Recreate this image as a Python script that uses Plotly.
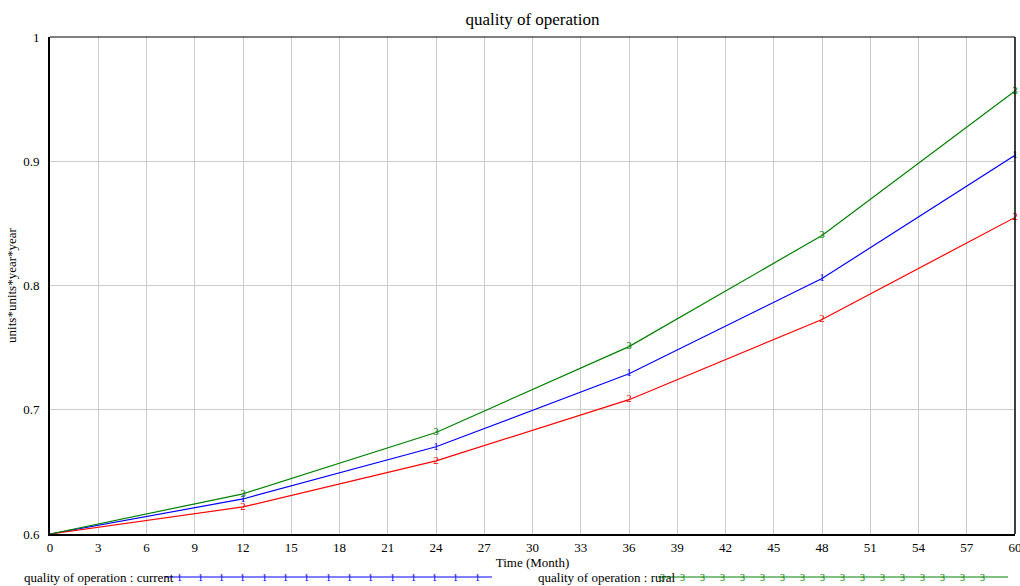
import plotly.graph_objects as go

# Simulation output, sampled every 12 months
months = [0, 12, 24, 36, 48, 60]
current = [0.600, 0.6282, 0.6702, 0.7290, 0.8056, 0.9048]
run2 = [0.600, 0.6218, 0.6589, 0.7081, 0.7726, 0.8548]
rural = [0.600, 0.6323, 0.6817, 0.7508, 0.8403, 0.9565]

x_ticks = list(range(0, 61, 3))
y_ticks = [0.6, 0.7, 0.8, 0.9, 1.0]
y_tick_text = ["0.6", "0.7", "0.8", "0.9", "1"]

series = [
    ("quality of operation : current", current, "#0000ff", "1"),
    ("quality of operation : run2", run2, "#ff0000", "2"),
    ("quality of operation : rural", rural, "#008000", "3"),
]

FONT = "Liberation Serif"

fig = go.Figure()
for name, vals, color, tag in series:
    fig.add_trace(go.Scatter(
        x=months, y=vals, name=name,
        mode="lines+text",
        line=dict(color=color, width=1.2),
        text=[""] + [tag] * (len(months) - 1),
        textposition="middle center",
        textfont=dict(family=FONT, size=11, color=color),
        cliponaxis=False,
        showlegend=False,
    ))

# Plot-area geometry in pixels (used to place the hand-drawn legend rows)
W, H = 1020, 586
L, R, T, B = 50, 5, 37, 52
pw, ph = W - L - R, H - T - B


def px(xp):
    return (xp - L) / pw


def py(yp):
    return (H - B - yp) / ph


shapes = []
annotations = []

# Legend rows: (label, colour, tag, text start px, line start px, line end px, first marker px, marker step px, count)
legend_rows = [
    ("quality of operation : current", "#0000ff", "1", 22, 165, 492, 179, 21.3, 15),
    ("quality of operation : rural", "#008000", "3", 536, 658, 1008, 662, 20.0, 17),
]
ly = 577
for label, color, tag, tx, l0, l1, m0, step, n in legend_rows:
    annotations.append(dict(
        x=px(tx), y=py(ly), xref="paper", yref="paper",
        text=label, showarrow=False, xanchor="left", yanchor="middle",
        font=dict(family=FONT, size=13, color="black"),
    ))
    shapes.append(dict(
        type="line", xref="paper", yref="paper",
        x0=px(l0), x1=px(l1), y0=py(ly), y1=py(ly),
        line=dict(color=color, width=1.2),
    ))
    for i in range(n):
        annotations.append(dict(
            x=px(m0 + i * step), y=py(ly), xref="paper", yref="paper",
            text=tag, showarrow=False, xanchor="center", yanchor="middle",
            font=dict(family=FONT, size=10, color=color),
        ))

# Thin frame on the top and right of the plot area
shapes.append(dict(type="line", xref="paper", yref="paper", x0=0, x1=1, y0=1, y1=1,
                   line=dict(color="black", width=1)))
shapes.append(dict(type="line", xref="paper", yref="paper", x0=1, x1=1, y0=0, y1=1,
                   line=dict(color="black", width=1.5)))

fig.update_layout(
    width=W, height=H,
    margin=dict(l=L, r=R, t=T, b=B, pad=0, autoexpand=False),
    paper_bgcolor="white", plot_bgcolor="white",
    font=dict(family=FONT, size=13, color="black"),
    title=dict(text="quality of operation", x=(L + pw / 2) / W, xanchor="center",
               y=1 - 19 / H, yanchor="middle",
               font=dict(family=FONT, size=17, color="black")),
    xaxis=dict(
        range=[0, 60], tickvals=x_ticks, ticktext=[str(v) for v in x_ticks],
        showgrid=True, gridcolor="#cccccc", gridwidth=1,
        showline=True, linecolor="black", linewidth=2,
        ticks="", zeroline=False, automargin=False,
        ticklabeloverflow="allow",
        title=dict(text="Time (Month)", standoff=2, font=dict(family=FONT, size=13)),
        tickfont=dict(family=FONT, size=13),
    ),
    yaxis=dict(
        range=[0.6, 1.0], tickvals=y_ticks, ticktext=y_tick_text,
        showgrid=True, gridcolor="#cccccc", gridwidth=1,
        showline=True, linecolor="black", linewidth=2,
        ticks="outside", ticklen=6, tickcolor="rgba(0,0,0,0)",
        zeroline=False, automargin=False, ticklabeloverflow="allow",
        title=dict(text="units*units*year*year", standoff=4, font=dict(family=FONT, size=13)),
        tickfont=dict(family=FONT, size=13),
    ),
    shapes=shapes,
    annotations=annotations,
)

fig.write_html("out.html")
